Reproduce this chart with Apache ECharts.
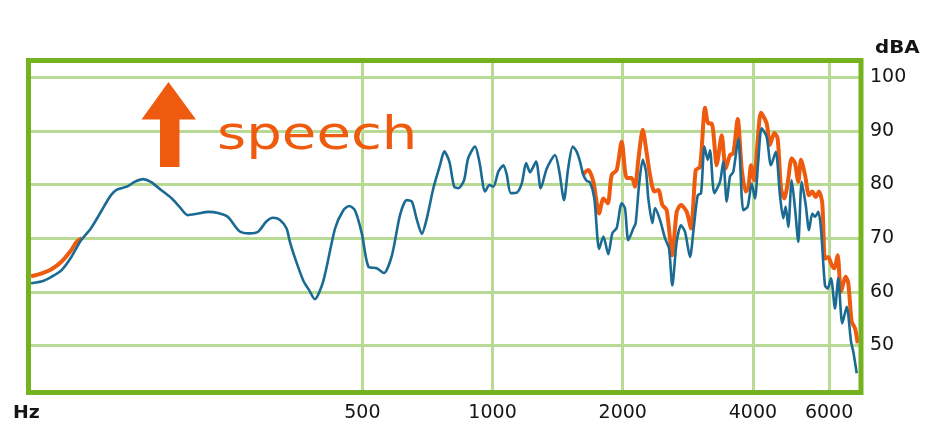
<!DOCTYPE html>
<html>
<head>
<meta charset="utf-8">
<script src="https://cdn.jsdelivr.net/npm/echarts@6/dist/echarts.min.js"></script>
<style>
html,body{margin:0;padding:0;background:#fff;}
#chart{width:934px;height:448px;}
</style>
</head>
<body>
<div id="chart"></div>
<script>
// x tick labels (Hz) and y tick labels (dBA)
const freqTicks = [500, 1000, 2000, 4000, 6000];
const dbTicks = [50, 60, 70, 80, 90, 100];

// blue curve
const blueFreq = [85.7, 90.4, 95.5, 100.7, 106.2, 111.8, 117.8, 124.9, 130.3, 135,
  142.7, 148.7, 155.5, 162.1, 171.2, 181.3, 188.7, 197.3, 208.7, 220.2,
  231.7, 244.2, 259.9, 274.6, 287, 299.9, 310.9, 322.5, 334, 340,
  348.6, 365.4, 376.7, 388.1, 406.1, 432.4, 451.9, 466.3, 480.6, 498.5,
  516.3, 540, 560.8, 585.3, 611, 633.3, 650.9, 668.5, 686.2, 704.8,
  729.7, 756, 773.5, 794.5, 815.2, 833.5, 859.2, 878.4, 911, 932.1,
  961.3, 983.6, 1004.5, 1031.5, 1059.4, 1078.9, 1102, 1138, 1168.5, 1195.8,
  1221, 1260.8, 1292.8, 1334.9, 1394.7, 1427.1, 1462.9, 1495.7, 1532.9, 1566,
  1593, 1621.2, 1651, 1681, 1719.8, 1763.6, 1804.4, 1852, 1892.2, 1937,
  1989, 2024, 2060.6, 2115.8, 2142.4, 2181.4, 2224.8, 2264.5, 2291.9, 2341.7,
  2375.5, 2439, 2504.9, 2559, 2603.9, 2665.6, 2727.6, 2786.3, 2862, 2912.7,
  2981.6, 3035.3, 3089.3, 3145.2, 3183, 3256.8, 3357, 3416.4, 3479.2, 3541,
  3603.7, 3702.1, 3800.1, 3890, 3974.8, 4042.8, 4114.8, 4190.8, 4303.6, 4403.7,
  4516.3, 4620, 4701.8, 4761.8, 4828.8, 4917.3, 5004.6, 5093.2, 5186.8, 5298.8,
  5392.9, 5487.2, 5566.3, 5665, 5746.7, 5870.3, 5954.9, 6061.6, 6191.8, 6301.5,
  6437.9, 6590.5, 6744.2, 6826.7, 6952.2];
const blueDb = [61.6, 61.9, 62.8, 64.0, 66.5, 69.6, 71.8, 75.2, 77.7, 79.0,
  79.6, 80.5, 81.0, 80.5, 79.0, 77.4, 75.9, 74.3, 74.6, 74.9,
  74.7, 74.0, 71.3, 70.9, 71.2, 73.1, 73.8, 73.4, 71.8, 69.3,
  66.5, 62.0, 60.3, 58.6, 62.0, 71.8, 75.2, 76.0, 75.2, 70.9,
  64.7, 64.4, 63.5, 66.8, 74.3, 77.1, 76.8, 73.4, 70.8, 73.7,
  79.3, 83.6, 86.2, 84.3, 79.6, 79.3, 80.8, 84.9, 87.1, 84.3,
  78.7, 79.9, 79.6, 82.4, 83.6, 81.8, 78.4, 78.5, 80.2, 84.0,
  82.3, 84.3, 79.3, 83.0, 85.5, 82.4, 77.1, 83.0, 87.1, 86.1,
  84.3, 81.8, 80.7, 80.4, 77.4, 68.0, 70.3, 67.0, 70.9, 71.9,
  76.5, 75.6, 69.6, 71.8, 72.8, 79.9, 84.6, 82.4, 77.4, 72.8,
  75.6, 73.4, 70.0, 68.1, 61.2, 69.3, 72.4, 71.2, 66.5, 71.2,
  78.0, 78.4, 87.1, 84.6, 86.4, 78.4, 80.5, 84.3, 76.8, 81.5,
  82.4, 88.6, 75.2, 75.9, 80.2, 77.4, 84.3, 90.5, 88.9, 83.6,
  86.1, 78.0, 73.7, 75.9, 72.1, 80.8, 75.6, 69.3, 80.5, 76.2,
  71.5, 74.6, 74.0, 74.9, 71.8, 61.2, 60.6, 62.5, 56.9, 62.5,
  54.1, 57.2, 50.7, 48.8, 44.8];

// orange curve: visible low-frequency part
const orangeLowFreq = [85.7, 90.4, 95.5, 100.7, 106.2, 109.2, 112.2];
const orangeLowDb = [62.9, 63.4, 64.2, 65.6, 67.8, 69.3, 70.0];

// orange curve: visible high-frequency part
const orangeHighFreq = [1621.2, 1636, 1665, 1710.8, 1763.6, 1804.4, 1847.1, 1886, 1937, 1989,
  2043, 2097.9, 2135, 2173, 2224.8, 2272.8, 2313, 2366.7, 2417.5, 2469.2,
  2527.8, 2603.9, 2665.6, 2727.6, 2811.8, 2877.5, 2950.4, 3019, 3100.5, 3155.4,
  3212, 3298.9, 3326.9, 3387.5, 3460.8, 3541, 3603.7, 3689, 3768, 3849.4,
  3902.8, 3960.3, 4027.7, 4101.5, 4175.4, 4303.6, 4380, 4481.7, 4563, 4644.9,
  4727.3, 4813, 4917.3, 5004.6, 5093.2, 5167.8, 5278.8, 5392.9, 5487.2, 5587.5,
  5685.7, 5786.9, 5870.3, 5974.4, 6083.9, 6168.9, 6281, 6393.3, 6555.5, 6647,
  6769, 6889, 6988.4];
const orangeHighDb = [81.8, 82.3, 82.7, 80.5, 74.6, 77.4, 76.5, 81.8, 82.7, 88.0,
  81.2, 81.2, 79.6, 84.6, 90.2, 85.8, 81.8, 78.7, 79.0, 76.2,
  75.2, 66.8, 74.9, 76.2, 74.9, 71.8, 82.7, 83.3, 94.3, 91.4,
  91.4, 83.6, 85.2, 89.2, 83.0, 85.5, 85.8, 92.2, 83.0, 78.7,
  79.3, 83.6, 80.8, 88.0, 93.4, 91.4, 87.4, 89.6, 88.6, 79.3,
  77.4, 80.2, 84.9, 84.0, 80.5, 84.6, 81.8, 78.0, 78.7, 77.7,
  78.7, 76.5, 66.2, 66.5, 65.0, 64.4, 66.8, 60.0, 62.8, 61.6,
  54.4, 53.2, 50.4];

const annotationText = 'speech';
const xUnit = 'Hz';
const yUnit = 'dBA';

const BLUE = '#1b6a93';
const ORANGE = '#ee5b0e';
const BORDER = '#74b21f';
const GRID = '#b9da95';
const TEXT = '#151515';
const FONT = '"DejaVu Sans", Verdana, sans-serif';

function pairs(xs, ys) { return xs.map((x, i) => [x, ys[i]]); }

const chart = echarts.init(document.getElementById('chart'), null, {renderer: 'canvas'});
const G = {left: 28.5, top: 60.5, right: 73, bottom: 55.5};

chart.setOption({
  animation: false,
  backgroundColor: '#ffffff',
  grid: {left: G.left, top: G.top, right: G.right, bottom: G.bottom, containLabel: false, show: false},
  xAxis: {
    type: 'log',
    logBase: 10,
    min: 84.53,
    max: 7112,
    axisLine: {show: false},
    axisTick: {show: false, customValues: freqTicks},
    axisLabel: {
      customValues: freqTicks,
      margin: 11,
      color: TEXT,
      fontFamily: FONT,
      fontSize: 19,
      formatter: v => String(Math.round(v))
    },
    splitLine: {show: true, lineStyle: {color: GRID, width: 3}},
    minorSplitLine: {show: false}
  },
  yAxis: {
    type: 'value',
    position: 'right',
    min: 41.22,
    max: 103.13,
    axisLine: {show: false},
    axisTick: {show: false, customValues: dbTicks},
    axisLabel: {
      customValues: dbTicks,
      margin: 9,
      color: TEXT,
      fontFamily: FONT,
      fontSize: 19,
      formatter: v => String(Math.round(v))
    },
    splitLine: {show: true, lineStyle: {color: GRID, width: 3}}
  },
  series: [
    {
      type: 'line', name: 'orange-low', data: pairs(orangeLowFreq, orangeLowDb),
      showSymbol: false, smooth: 0.3, z: 3,
      lineStyle: {color: ORANGE, width: 4}
    },
    {
      type: 'line', name: 'orange-high', data: pairs(orangeHighFreq, orangeHighDb),
      showSymbol: false, smooth: 0.25, z: 3,
      lineStyle: {color: ORANGE, width: 4}
    },
    {
      type: 'line', name: 'blue', data: pairs(blueFreq, blueDb),
      showSymbol: false, smooth: 0.25, z: 4,
      lineStyle: {color: BLUE, width: 2.6}
    }
  ],
  graphic: [
    {
      type: 'rect', z: 100, silent: true,
      shape: {x: 28.5, y: 60.5, width: 832.5, height: 332},
      style: {fill: 'none', stroke: BORDER, lineWidth: 5}
    },
    {
      type: 'polygon', z: 50, silent: true,
      shape: {points: [[168.5, 82], [196, 119.5], [179.5, 119.5], [179.5, 167], [160, 167], [160, 119.5], [141.5, 119.5]]},
      style: {fill: ORANGE}
    },
    {
      type: 'text', z: 50, silent: true, x: 217, y: 137, scaleX: 1.22,
      style: {text: annotationText, font: '46px ' + FONT, fill: ORANGE, align: 'left', verticalAlign: 'middle'}
    },
    {
      type: 'text', z: 50, silent: true, x: 13, y: 413, scaleX: 1.05,
      style: {text: xUnit, font: 'bold 18px ' + FONT, fill: TEXT, align: 'left', verticalAlign: 'middle'}
    },
    {
      type: 'text', z: 50, silent: true, x: 875, y: 48, scaleX: 1.1,
      style: {text: yUnit, font: 'bold 18px ' + FONT, fill: TEXT, align: 'left', verticalAlign: 'middle'}
    }
  ]
});
</script>
</body>
</html>
